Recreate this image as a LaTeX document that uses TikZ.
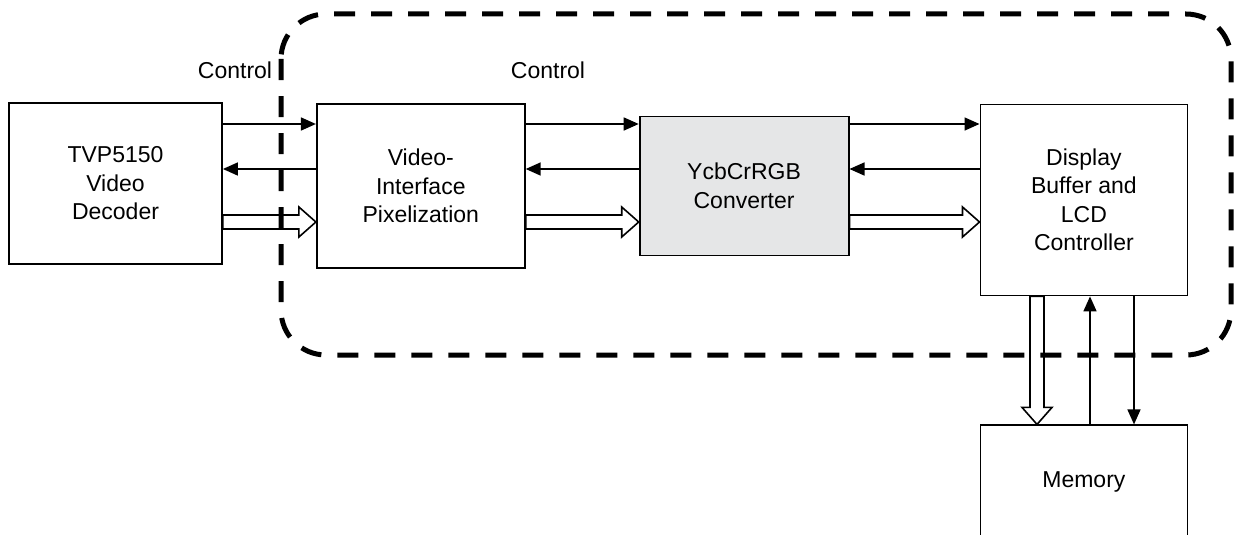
\documentclass[tikz,border=0pt]{standalone}
\usepackage{fontspec}
\setmainfont{Liberation Sans}
\usetikzlibrary{positioning, arrows.meta, calc}

\definecolor{convgray}{RGB}{229,230,231}

\begin{document}
\begin{tikzpicture}[
    x=1pt, y=-1pt,
    >=Triangle,
    block/.style={
        rectangle,
        draw,
        line width=1.8pt,
        inner sep=0pt,
        align=center,
        font=\fontsize{23}{28.5}\selectfont
    },
    conv/.style={
        block,
        fill=convgray
    },
    arrow/.style={
        -{Triangle[length=15pt, width=13pt]},
        line width=1.6pt
    },
    bus/.style={
        draw,
        line width=1.6pt,
        fill=white,
        to path={
            let \p1=(\tikztostart), \p2=(\tikztotarget),
                \n1={atan2(\y2-\y1,\x2-\x1)},
                \n2={veclen(\x2-\x1,\y2-\y1)-17pt}
            in ($(\p1)+(\n1+90:7pt)$)
            -- ($(\p1)+(\n1:\n2)+(\n1+90:7pt)$)
            -- ($(\p1)+(\n1:\n2)+(\n1+90:15pt)$)
            -- (\p2)
            -- ($(\p1)+(\n1:\n2)+(\n1-90:15pt)$)
            -- ($(\p1)+(\n1:\n2)+(\n1-90:7pt)$)
            -- ($(\p1)+(\n1-90:7pt)$)
            -- cycle
        }
    },
    tag/.style={
        font=\fontsize{23}{28.5}\selectfont,
        inner sep=0pt,
        anchor=base
    },
    boundary/.style={
        line width=5pt,
        dash pattern=on 21pt off 16pt,
        rounded corners=45pt
    }
]

    \useasboundingbox (0,0) rectangle (1236,535);
    \clip (0,0) rectangle (1236,535);

    % Blocks
    \node[block, minimum width=213pt, minimum height=161pt] (tvp) at (115.5,183.5) {TVP5150\\Video\\Decoder};
    \node[block, minimum width=208pt, minimum height=164pt, right=93pt of tvp, yshift=-2.5pt] (vid) {Video-\\Interface\\Pixelization};
    \node[conv, minimum width=209pt, minimum height=139pt, right=113pt of vid] (ycc) {YcbCrRGB\\Converter};
    \node[block, minimum width=207pt, minimum height=191pt, right=130pt of ycc, yshift=-14pt] (disp) {Display\\Buffer and\\LCD\\Controller};
    \node[block, minimum width=207pt, minimum height=114pt, below=128pt of disp] (mem) {Memory};

    % Signal rows
    \coordinate (ctl) at (0,124);
    \coordinate (ack) at (0,169);
    \coordinate (pix) at (0,222);

    % Decoder -> interface
    \draw[arrow] (tvp.east |- ctl) -- (vid.west |- ctl);
    \draw[arrow] (vid.west |- ack) -- (tvp.east |- ack);
    \draw[bus] (tvp.east |- pix) to (vid.west |- pix);

    % Interface -> converter
    \draw[arrow] (vid.east |- ctl) -- (ycc.west |- ctl);
    \draw[arrow] (ycc.west |- ack) -- (vid.east |- ack);
    \draw[bus] (vid.east |- pix) to (ycc.west |- pix);

    % Converter -> display
    \draw[arrow] (ycc.east |- ctl) -- (disp.west |- ctl);
    \draw[arrow] (disp.west |- ack) -- (ycc.east |- ack);
    \draw[bus] (ycc.east |- pix) to (disp.west |- pix);

    % Display <-> memory
    \coordinate (wr) at (1037,0);
    \coordinate (rd) at (1090,0);
    \coordinate (req) at (1134,0);
    \draw[bus] (disp.south -| wr) to (mem.north -| wr);
    \draw[arrow] (mem.north -| rd) -- (disp.south -| rd);
    \draw[arrow] (disp.south -| req) -- (mem.north -| req);

    % Labels
    \node[tag] (ctlL) at (235,78) {Control};
    \node[tag] (ctlR) at (548,78) {Control};

    % FPGA boundary
    \draw[boundary] (281,14) rectangle (1231,355);

\end{tikzpicture}
\end{document}
